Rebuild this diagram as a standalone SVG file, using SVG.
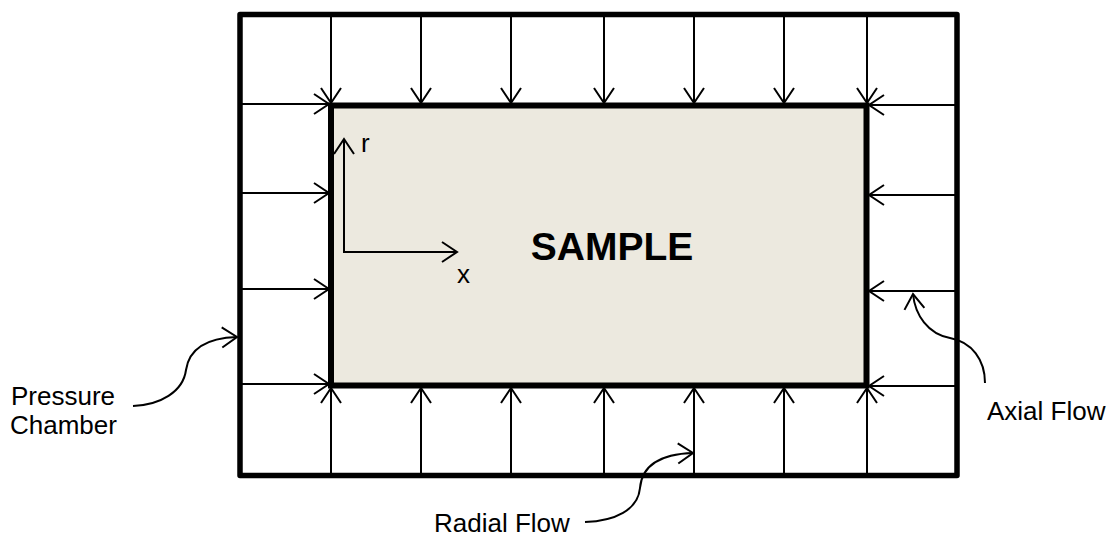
<svg xmlns="http://www.w3.org/2000/svg" width="1112" height="536" viewBox="0 0 1112 536">
<style>
.thin{fill:none;stroke:#000;stroke-width:2}
.arr{marker-end:url(#ah)}
.wall{fill:none;stroke:#000;stroke-width:5.5;stroke-linejoin:round}
.lbl{font-family:"Liberation Sans",Arial,sans-serif;font-size:26px;fill:#000}
</style>
<defs>
<marker id="ah" viewBox="-18 -12 22 24" markerWidth="22" markerHeight="24" refX="0" refY="0" markerUnits="userSpaceOnUse" orient="auto">
<path d="M-15,-10 L0,0 L-15,10" fill="none" stroke="#000" stroke-width="2"/>
</marker>
</defs>
<rect width="1112" height="536" fill="#fff"/>
<g id="sample">
<rect x="331" y="105.5" width="535.5" height="280" fill="#ECE9DF" stroke="#000" stroke-width="6"/>
<text x="612" y="260" text-anchor="middle" font-family="'Liberation Sans',Arial,sans-serif" font-size="39" font-weight="bold" fill="#000">SAMPLE</text>
</g>
<g id="connectors">
<!-- top radial flow -->
<line class="thin arr" x1="331" y1="15" x2="331" y2="103"/>
<line class="thin arr" x1="421" y1="15" x2="421" y2="103"/>
<line class="thin arr" x1="511" y1="15" x2="511" y2="103"/>
<line class="thin arr" x1="604" y1="15" x2="604" y2="103"/>
<line class="thin arr" x1="694" y1="15" x2="694" y2="103"/>
<line class="thin arr" x1="784" y1="15" x2="784" y2="103"/>
<line class="thin arr" x1="867" y1="15" x2="867" y2="103"/>
<!-- bottom radial flow -->
<line class="thin arr" x1="331" y1="475" x2="331" y2="388"/>
<line class="thin arr" x1="421" y1="475" x2="421" y2="388"/>
<line class="thin arr" x1="511" y1="475" x2="511" y2="388"/>
<line class="thin arr" x1="604" y1="475" x2="604" y2="388"/>
<line class="thin arr" x1="694" y1="475" x2="694" y2="388"/>
<line class="thin arr" x1="784" y1="475" x2="784" y2="388"/>
<line class="thin arr" x1="867" y1="475" x2="867" y2="388"/>
<!-- left axial flow -->
<line class="thin arr" x1="240" y1="104" x2="329" y2="104"/>
<line class="thin arr" x1="240" y1="193" x2="329" y2="193"/>
<line class="thin arr" x1="240" y1="289" x2="329" y2="289"/>
<line class="thin arr" x1="240" y1="384" x2="329" y2="384"/>
<!-- right axial flow -->
<line class="thin arr" x1="957" y1="105" x2="869" y2="105"/>
<line class="thin arr" x1="957" y1="195" x2="869" y2="195"/>
<line class="thin arr" x1="957" y1="291" x2="869" y2="291"/>
<line class="thin arr" x1="957" y1="386" x2="869" y2="386"/>
<!-- leader arrows -->
<path class="thin arr" d="M133,406 C160,405 183,392 186,370 C189,350 205,338 237,337"/>
<path class="thin arr" d="M585,522 C615,521 638,510 640,488 C642,465 660,454 693,453"/>
<path class="thin arr" d="M985,383 C985,360 972,342 950,338 C928,334 915,315 913,294"/>
</g>
<g id="chamber">
<rect x="240" y="14.5" width="717" height="461" class="wall"/>
</g>
<g id="axes">
<line class="thin arr" x1="344" y1="252" x2="344" y2="139"/>
<line class="thin arr" x1="343" y1="252" x2="457" y2="252"/>
<text class="lbl" x="361" y="152">r</text>
<text class="lbl" x="457" y="283">x</text>
</g>
<g id="labels">
<text class="lbl" x="11" y="405">Pressure</text>
<text class="lbl" x="10" y="434">Chamber</text>
<text class="lbl" x="434" y="532">Radial Flow</text>
<text class="lbl" x="987" y="420">Axial Flow</text>
</g>
</svg>
